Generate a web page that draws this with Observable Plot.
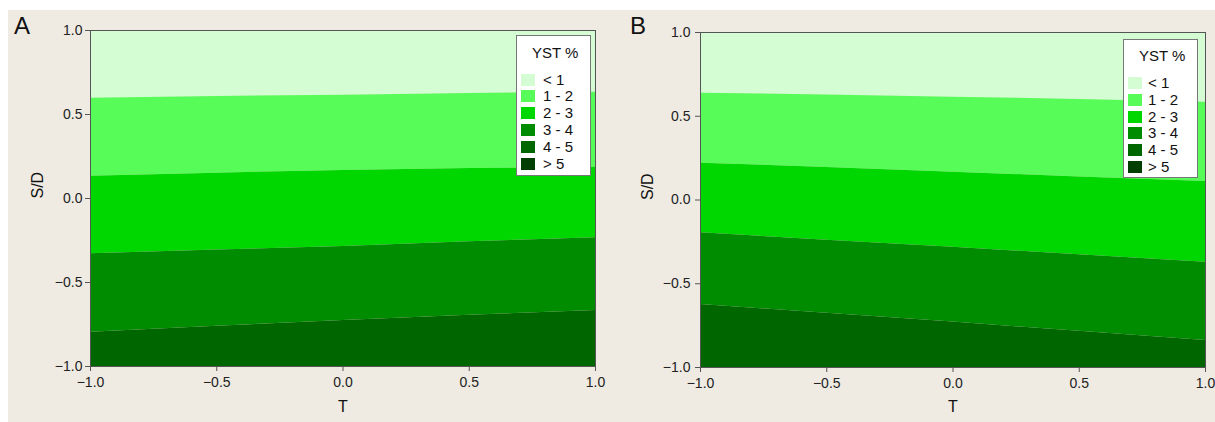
<!DOCTYPE html>
<html><head><meta charset="utf-8">
<script src="https://cdn.jsdelivr.net/npm/d3@7"></script>
<script src="https://cdn.jsdelivr.net/npm/@observablehq/plot@0.6"></script>
<style>
body{margin:0;background:#fff;width:1215px;height:422px;overflow:hidden;position:relative;font-family:"Liberation Sans",Arial,sans-serif;}
#bg{position:absolute;left:8px;top:10px;width:1207px;height:412px;background:#efebe2;}
.panel{position:absolute;top:0;}
.letter{position:absolute;font-size:24px;line-height:24px;color:#111;}
.legend{position:absolute;background:#fff;border:1px solid #777;box-sizing:border-box;color:#111;}
.legend .title{position:absolute;font-size:15px;line-height:15px;white-space:nowrap;}
.legend .sw{position:absolute;width:14px;height:12px;}
.legend .lab{position:absolute;font-size:15px;line-height:12px;white-space:nowrap;}
</style></head><body>
<div id="bg"></div>
<script>
// ---- data ----
const T = [-1, -0.5, 0, 0.5, 1];
const bandLabels = ["< 1", "1 - 2", "2 - 3", "3 - 4", "4 - 5", "> 5"];
const bandColors = ["#d4fdd4", "#58fc58", "#00d600", "#008c00", "#006600", "#003f00"];
const axisTicks = [-1, -0.5, 0, 0.5, 1];
const legendTitle = "YST %";

// Panel A: S/D values of the contour boundaries at each T
const A_b1 = [0.597, 0.607, 0.615, 0.625, 0.633];   // <1 | 1-2
const A_b2 = [0.133, 0.151, 0.167, 0.178, 0.186];   // 1-2 | 2-3
const A_b3 = [-0.329, -0.307, -0.286, -0.258, -0.234]; // 2-3 | 3-4
const A_b4 = [-0.796, -0.760, -0.726, -0.695, -0.667]; // 3-4 | 4-5

// Panel B
const B_b1 = [0.638, 0.627, 0.614, 0.600, 0.584];
const B_b2 = [0.220, 0.194, 0.166, 0.138, 0.110];
const B_b3 = [-0.196, -0.240, -0.282, -0.327, -0.371];
const B_b4 = [-0.624, -0.676, -0.729, -0.784, -0.839];

function bands(bs) {
  const top = T.map(() => 1), bot = T.map(() => -1);
  const edges = [top, ...bs, bot];
  const rows = [];
  for (let i = 0; i < edges.length - 1; i++) {
    T.forEach((t, j) => rows.push({T: t, hi: edges[i][j], lo: edges[i + 1][j], band: bandLabels[i]}));
  }
  return rows;
}

function panel(bs, o) {
  const svg = Plot.plot({
    width: o.width, height: 422,
    marginLeft: o.ml, marginRight: o.mr, marginTop: o.mt, marginBottom: o.mb,
    x: {domain: [-1, 1]},
    y: {domain: [-1, 1]},
    color: {domain: bandLabels, range: bandColors},
    style: {background: "transparent", fontFamily: "'Liberation Sans', Arial, sans-serif", color: "#222", overflow: "visible"},
    marks: [
      Plot.areaY(bands(bs), {x: "T", y1: "lo", y2: "hi", fill: "band", z: "band", curve: "linear"}),
      Plot.frame({stroke: "#555"}),
      Plot.axisX({ticks: axisTicks, tickFormat: ".1f", tickSize: 5, tickPadding: 6, fontSize: 14, label: null, stroke: "#555"}),
      Plot.axisY({ticks: axisTicks, tickFormat: ".1f", tickSize: 5, tickPadding: o.yPad, fontSize: 14, label: null, stroke: "#555"}),
      Plot.text(["S/D"], {text: d => d, frameAnchor: "left", dx: o.ydx, rotate: -90, fontSize: 16, fill: "#111"}),
      Plot.text(["T"], {text: d => d, frameAnchor: "bottom", dy: o.xdy, lineAnchor: "middle", fontSize: 16, fill: "#111"})
    ]
  });
  svg.classList.add("panel");
  svg.style.left = o.left + "px";
  document.body.appendChild(svg);

  const L = document.createElement("div");
  L.className = "legend";
  Object.assign(L.style, {left: o.lg.x + "px", top: o.lg.y + "px", width: "75px", height: o.lg.h + "px"});
  const t = document.createElement("div");
  t.className = "title"; t.textContent = legendTitle;
  Object.assign(t.style, {left: "15px", top: o.lg.tt + "px"});
  L.appendChild(t);
  bandLabels.forEach((lab, i) => {
    const s = document.createElement("div");
    s.className = "sw";
    Object.assign(s.style, {left: "4px", top: (o.lg.st + i * 16.9) + "px", background: bandColors[i]});
    const l = document.createElement("div");
    l.className = "lab"; l.textContent = lab;
    Object.assign(l.style, {left: o.lg.lx + "px", top: (o.lg.st + i * 16.9) + "px"});
    L.appendChild(s); L.appendChild(l);
  });
  document.body.appendChild(L);

  const let_ = document.createElement("div");
  let_.className = "letter"; let_.textContent = o.letter;
  Object.assign(let_.style, {left: o.lx + "px", top: "14px"});
  document.body.appendChild(let_);
}

panel([A_b1, A_b2, A_b3, A_b4], {
  width: 607, left: 0, ml: 90, mr: 12, mt: 30, mb: 56, yPad: 3, ydx: -53, xdy: 40,
  letter: "A", lx: 14,
  lg: {x: 516, y: 35, h: 141, tt: 9, st: 37.5, lx: 26}
});
panel([B_b1, B_b2, B_b3, B_b4], {
  width: 608, left: 607, ml: 93, mr: 10, mt: 32, mb: 55, yPad: 5, ydx: -52.5, xdy: 39,
  letter: "B", lx: 630,
  lg: {x: 1123, y: 39, h: 139, tt: 8, st: 36.7, lx: 24}
});
</script>
</body></html>
